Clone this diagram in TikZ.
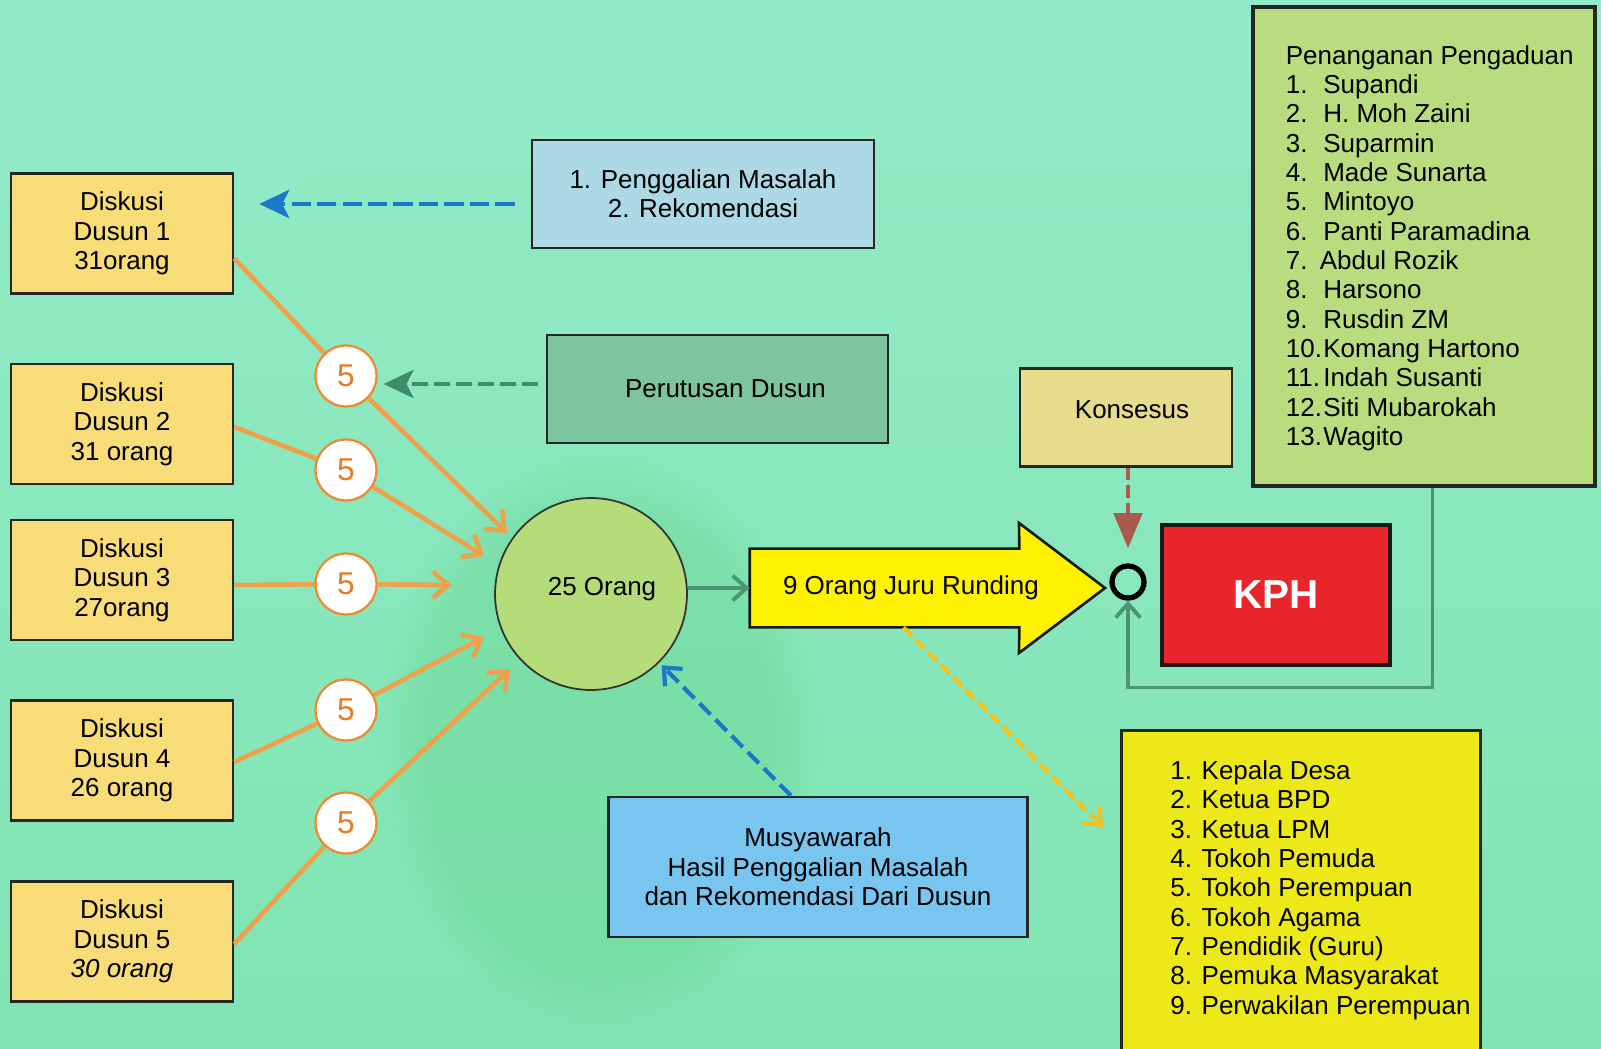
\documentclass[tikz,border=0pt]{standalone}
\usepackage{fontspec}
\setmainfont{Liberation Sans}
\usetikzlibrary{arrows.meta,fadings}
\definecolor{bgTop}{HTML}{92EBC8}
\definecolor{bgBot}{HTML}{80E4B2}
\definecolor{blobG}{HTML}{5FCF7E}
\definecolor{diskY}{HTML}{F8DC78}
\definecolor{orangeL}{HTML}{F0A04B}
\definecolor{orangeB}{HTML}{EE8A30}
\definecolor{orangeT}{HTML}{E8791F}
\definecolor{bigG}{HTML}{B4DC78}
\definecolor{ggray}{HTML}{4C9574}
\definecolor{pgBlue}{HTML}{ADD8E6}
\definecolor{perG}{HTML}{7CC59E}
\definecolor{konsY}{HTML}{E6DC8C}
\definecolor{kphR}{HTML}{E8242C}
\definecolor{penG}{HTML}{B8DC7E}
\definecolor{musB}{HTML}{78C5F0}
\definecolor{lstY}{HTML}{EDE817}
\definecolor{arrY}{HTML}{FFF200}
\definecolor{dashY}{HTML}{F7C018}
\definecolor{dashBr}{HTML}{A85A4C}
\definecolor{dashBl}{HTML}{1A78C8}
\definecolor{dashG}{HTML}{3F8C6C}
\newcommand\nb[1]{\makebox[21.3pt][l]{#1}}
\begin{document}
\begin{tikzpicture}[x=0.02cm,y=-0.02cm,
  font=\fontsize{14.8}{16.7}\selectfont,
  box/.style={draw=black!85, line width=1.5pt, align=center, inner sep=2pt},
  dbox/.style={box, fill=diskY, minimum width=4.44cm, minimum height=2.4cm},
  five/.style={circle, draw=orangeB, line width=1.3pt, fill=white, text=orangeT,
    minimum size=1.22cm, inner sep=0pt, font=\fontsize{18}{20}\selectfont},
  oline/.style={draw=orangeL, line width=2.6pt},
  oarrow/.style={oline, -{Straight Barb[length=9pt,width=15pt]}},
  garrow/.style={draw=ggray, line width=2.2pt, -{Straight Barb[length=8pt,width=14pt]}},
  bigdash/.style={line width=2.6pt, dash pattern=on 11pt off 3.5pt,
    -{Stealth[length=17pt,width=16pt,inset=4pt]}},
]
\useasboundingbox (0,0) rectangle (1601,1048);
\clip (0,0) rectangle (1601,1048);
% background
\shade[top color=bgTop, bottom color=bgBot] (0,0) rectangle (1601,1048);
\fill[blobG, opacity=0.3, path fading=circle with fuzzy edge 20 percent] (600,740) ellipse (220 and 290);
\fill[bgTop, opacity=0.35, path fading=circle with fuzzy edge 20 percent] (130,80) ellipse (300 and 160);

% Diskusi boxes
\node[dbox] (d1) at (122,233.5) {Diskusi\\Dusun 1\\31orang};
\node[dbox] (d2) at (122,424) {Diskusi\\Dusun 2\\31 orang};
\node[dbox] (d3) at (122,580) {Diskusi\\Dusun 3\\27orang};
\node[dbox] (d4) at (122,760.5) {Diskusi\\Dusun 4\\26 orang};
\node[dbox] (d5) at (122,941.5) {Diskusi\\Dusun 5\\\textit{30 orang}};

% central circle
\node[circle, draw=black!80, line width=1pt, fill=bigG, minimum size=3.84cm] (big) at (591,594) {};
\node (bigt) at (602,589) {25 Orang};

% five circles
\node[five] (c1) at (346,376) {5};
\node[five] (c2) at (346,470) {5};
\node[five] (c3) at (346,584) {5};
\node[five] (c4) at (346,710) {5};
\node[five] (c5) at (346,823) {5};

\coordinate (a1) at (507,533);
\coordinate (a2) at (484,556);
\coordinate (a3) at (452,585);
\coordinate (a4) at (484,637);
\coordinate (a5) at (510,669);

\draw[oline] ([yshift=-0.5cm]d1.east) -- (c1);
\draw[oline] ([yshift=-0.06cm]d2.east) -- (c2);
\draw[oline] ([yshift=-0.1cm]d3.east) -- (c3);
\draw[oline] ([yshift=-0.03cm]d4.east) -- (c4);
\draw[oline] ([yshift=-0.05cm]d5.east) -- (c5);
\draw[oarrow] (c1) -- (a1);
\draw[oarrow] (c2) -- (a2);
\draw[oarrow] (c3) -- (a3);
\draw[oarrow] (c4) -- (a4);
\draw[oarrow] (c5) -- (a5);

% top boxes
\node[box, fill=pgBlue, minimum width=6.84cm, minimum height=2.16cm] (pg) at (703,194)
  {1. Penggalian Masalah\\2. Rekomendasi};
\node[box, fill=perG, minimum width=6.82cm, minimum height=2.16cm] (per) at (717.5,389)
  {\hspace*{0.32cm}Perutusan Dusun};

\coordinate (pb) at ([yshift=-0.2cm]pg.west);
\draw[bigdash, draw=dashBl, fill=dashBl, shorten <=0.32cm, shorten >=0.5cm] (pb) -- (pb -| d1.east);
\coordinate (pa) at ([yshift=0.1cm]per.west);
\draw[bigdash, draw=dashG, fill=dashG, dash pattern=on 9pt off 3.5pt, shorten <=0.16cm, shorten >=0.12cm] (pa) -- (pa -| c1.east);

% yellow arrow
\node[minimum width=5.38cm, minimum height=1.56cm, inner sep=0pt] (ya) at (884.5,588) {};
\draw[draw=black!90, line width=1.5pt, fill=arrY, line join=miter]
  (ya.north west) -- (ya.north east) -- (1019,523) -- (1105,588) -- (1019,653)
  -- (ya.south east) -- (ya.south west) -- cycle;
\node (yat) at (911,588) {9 Orang Juru Runding};
\draw[garrow] (big.east |- ya.west) -- (ya.west);

% ring, Konsesus, KPH
\node[circle, draw=black, line width=3pt, minimum size=0.64cm, inner sep=0pt] (ring) at (1128,582) {};
\node[box, fill=konsY, minimum width=4.24cm, minimum height=1.96cm] (kons) at (1126,417.6) {};
\node (konst) at (1132,409.5) {Konsesus};
\node[draw=black!90, line width=2.3pt, fill=kphR, text=white, minimum width=4.56cm, minimum height=2.8cm,
  font=\fontsize{23}{26}\selectfont\bfseries] (kph) at (1276,595) {KPH};
\draw[draw=dashBr, fill=dashBr, line width=2.2pt, dash pattern=on 7pt off 3pt,
  -{Triangle[length=20pt,width=16pt]}, shorten >=0.3cm] (kons.south -| ring.north) -- (ring.north);

% Penanganan box
\node[box, fill=penG, line width=1.8pt, minimum width=6.84cm, minimum height=9.58cm] (pen) at (1424,246.5) {};
\node[anchor=west, align=left, inner sep=0pt] (pent) at (1285.5,248)
 {Penanganan Pengaduan\\
  \nb{1.}Supandi\\
  \nb{2.}H. Moh Zaini\\
  \nb{3.}Suparmin\\
  \nb{4.}Made Sunarta\\
  \nb{5.}Mintoyo\\
  \nb{6.}Panti Paramadina\\
  \nb{7.}\hspace{-2pt}Abdul Rozik\\
  \nb{8.}Harsono\\
  \nb{9.}Rusdin ZM\\
  \nb{10.}Komang Hartono\\
  \nb{11.}Indah Susanti\\
  \nb{12.}Siti Mubarokah\\
  \nb{13.}Wagito};
\draw[draw=ggray, line width=2.2pt, -{Straight Barb[length=8pt,width=14pt]}]
  ([xshift=0.17cm]pen.south) -- ++(0,200) -| (ring.south);

% Musyawarah
\node[box, fill=musB, minimum width=8.39cm, minimum height=2.8cm] (mus) at (818,867)
  {Musyawarah\\Hasil Penggalian Masalah\\dan Rekomendasi Dari Dusun};
\draw[draw=dashBl, line width=2.4pt, dash pattern=on 9pt off 4pt,
  -{Straight Barb[length=8pt,width=14pt]}, shorten >=2pt] ([xshift=-0.54cm]mus.north) -- (big);

% list box
\node[box, fill=lstY, minimum width=7.19cm, minimum height=6.8cm, anchor=north west] (lst) at (1120,729) {};
\node[anchor=west, align=left, inner sep=0pt] (lstt) at (1170,890)
 {1. Kepala Desa\\2. Ketua BPD\\3. Ketua LPM\\4. Tokoh Pemuda\\5. Tokoh Perempuan\\
  6. Tokoh Agama\\7. Pendidik (Guru)\\8. Pemuka Masyarakat\\9. Perwakilan Perempuan};
\coordinate (ye) at ([xshift=-0.34cm,yshift=-1.96cm]lst.north west);
\draw[draw=dashY, line width=2.2pt, dash pattern=on 7pt off 3pt,
  -{Straight Barb[length=8pt,width=14pt]}] ([xshift=0.38cm]ya.south) -- (ye);
\end{tikzpicture}
\end{document}
